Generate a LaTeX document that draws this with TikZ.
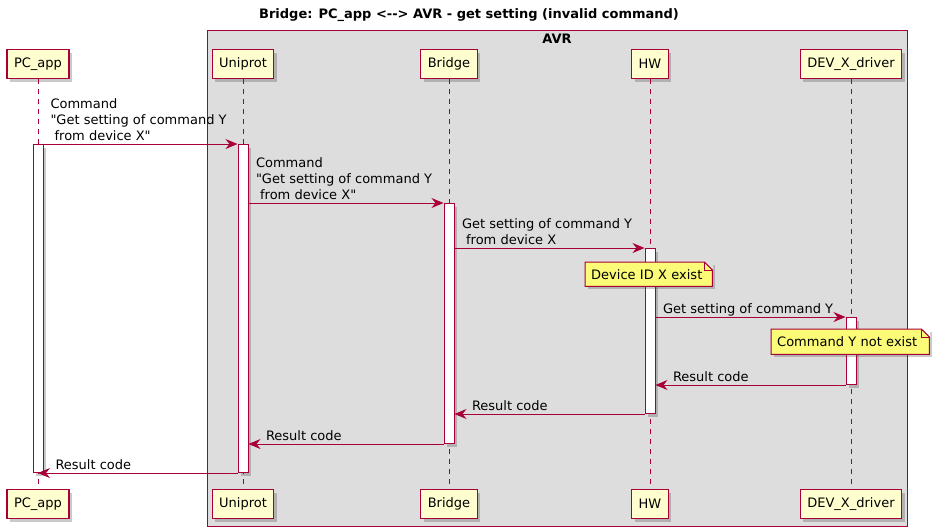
\documentclass[tikz,border=0pt]{standalone}
\usepackage{fontspec}
\setmainfont{DejaVu Sans}
\usetikzlibrary{arrows.meta,shadows}
\definecolor{umlred}{HTML}{A80036}
\definecolor{umlpart}{HTML}{FEFECE}
\definecolor{umlnote}{HTML}{FBFB77}
\definecolor{umlbox}{HTML}{DDDDDD}

\begin{document}
\begin{tikzpicture}[x=1pt,y=-1pt,>={Stealth[length=12pt,width=10pt,inset=4pt]},font=\fontsize{13}{16}\selectfont,
    uml shadow/.style={drop shadow={shadow xshift=3pt,shadow yshift=-3pt,opacity=0.3,fill=black!70}},
    part node/.style={rectangle,draw=umlred,fill=umlpart,line width=1.2pt,minimum height=29pt,inner xsep=7pt,anchor=north,uml shadow},
    bar node/.style={rectangle,draw=umlred,fill=white,line width=1pt,minimum width=10pt,inner sep=0pt,anchor=north,uml shadow},
    note node/.style={rectangle,fill=umlnote,anchor=north west,inner xsep=6pt,inner ysep=0pt,align=left,uml shadow},
    note line/.style={draw=umlred,line width=1pt},
    life/.style={draw=umlred,line width=1pt,dash pattern=on 5pt off 5pt},
    msg/.style={->,draw=umlred,line width=1pt},
    msg text/.style={anchor=south west,inner sep=0pt,text depth=0pt,align=left,yshift=3.5pt}]
    \useasboundingbox (0,0) rectangle (938,528);

    % AVR group
    \node[draw=umlred,fill=umlbox,line width=1pt,anchor=north west,minimum width=700pt,minimum height=496pt,inner sep=0pt] (avr) at (207,30) {};
    \node[font=\bfseries\fontsize{13}{16}\selectfont] (avrlbl) at (557,38.5) {AVR};
    \node[font=\bfseries\fontsize{13}{16}\selectfont] (title) at (469,15.5) {Bridge: PC\_app <-{}-{}> AVR -{} get setting (invalid command)};

    % participants
    \node[part node] (pc) at (38,49) {PC\_app};
    \node[part node] (uni) at (243,49) {Uniprot};
    \node[part node] (br) at (449,49) {Bridge};
    \node[part node] (hw) at (650,49) {HW};
    \node[part node] (dev) at (851,49) {DEV\_X\_driver};
    \node[part node] (pcb) at (38,489) {PC\_app};
    \node[part node] (unib) at (243,489) {Uniprot};
    \node[part node] (brb) at (449,489) {Bridge};
    \node[part node] (hwb) at (650,489) {HW};
    \node[part node] (devb) at (851,489) {DEV\_X\_driver};

    \path[life] (pc.south) edge (pcb.north)
                (uni.south) edge (unib.north)
                (br.south) edge (brb.north)
                (hw.south) edge (hwb.north)
                (dev.south) edge (devb.north);

    % activations
    \node[bar node,minimum height=328pt] (pcbar) at (38,144) {};
    \node[bar node,minimum height=328pt] (unibar) at (243,144) {};
    \node[bar node,minimum height=240pt] (brbar) at (449,203) {};
    \node[bar node,minimum height=165pt] (hwbar) at (650,248) {};
    \node[bar node,minimum height=67pt] (devbar) at (851,317) {};

    % messages
    \draw[msg] (pcbar.north) -- node[msg text,pos=0,xshift=12pt] {Command\\\textquotedbl Get setting of command Y\\\ from device X\textquotedbl} (unibar.north west);
    \draw[msg] (unibar.east |- brbar.north) -- node[msg text,pos=0,xshift=7pt] {Command\\\textquotedbl Get setting of command Y\\\ from device X\textquotedbl} (brbar.north west);
    \draw[msg] (brbar.east |- hwbar.north) -- node[msg text,pos=0,xshift=7pt] {Get setting of command Y\\\ from device X} (hwbar.north west);
    \draw[msg] (hwbar.east |- devbar.north) -- node[msg text,pos=0,xshift=7pt] {Get setting of command Y} (devbar.north west);
    \draw[msg] (devbar.south west) -- node[msg text,pos=1,xshift=17pt] {Result code} (hwbar.east |- devbar.south);
    \draw[msg] (hwbar.south west) -- node[msg text,pos=1,xshift=17pt] {Result code} (brbar.east |- hwbar.south);
    \draw[msg] (brbar.south west) -- node[msg text,pos=1,xshift=17pt] {Result code} (unibar.east |- brbar.south);
    \draw[msg] (unibar.south west) -- node[msg text,pos=1,xshift=17pt] {Result code} (pcbar.south);

    % notes
    \node[note node,minimum height=24pt,text width=115pt] (n1) at (585,262) {Device ID X exist};
    \fill[umlbox] ([xshift=-8pt]n1.north east) -- ([xshift=1pt]n1.north east) -- ([xshift=1pt,yshift=-8pt]n1.north east) -- cycle;
    \draw[note line] (n1.south west) -- (n1.north west) -- ([xshift=-8pt]n1.north east) -- ([yshift=-8pt]n1.north east) -- (n1.south east) -- cycle;
    \draw[note line] ([xshift=-8pt]n1.north east) -- ([xshift=-8pt,yshift=-8pt]n1.north east) -- ([yshift=-8pt]n1.north east);

    \node[note node,minimum height=25pt,text width=146pt] (n2) at (771,329) {Command Y not exist};
    \fill[white] ([xshift=-8pt]n2.north east) -- ([xshift=1pt]n2.north east) -- ([xshift=1pt,yshift=-8pt]n2.north east) -- cycle;
    \draw[note line] (n2.south west) -- (n2.north west) -- ([xshift=-8pt]n2.north east) -- ([yshift=-8pt]n2.north east) -- (n2.south east) -- cycle;
    \draw[note line] ([xshift=-8pt]n2.north east) -- ([xshift=-8pt,yshift=-8pt]n2.north east) -- ([yshift=-8pt]n2.north east);
\end{tikzpicture}
\end{document}
